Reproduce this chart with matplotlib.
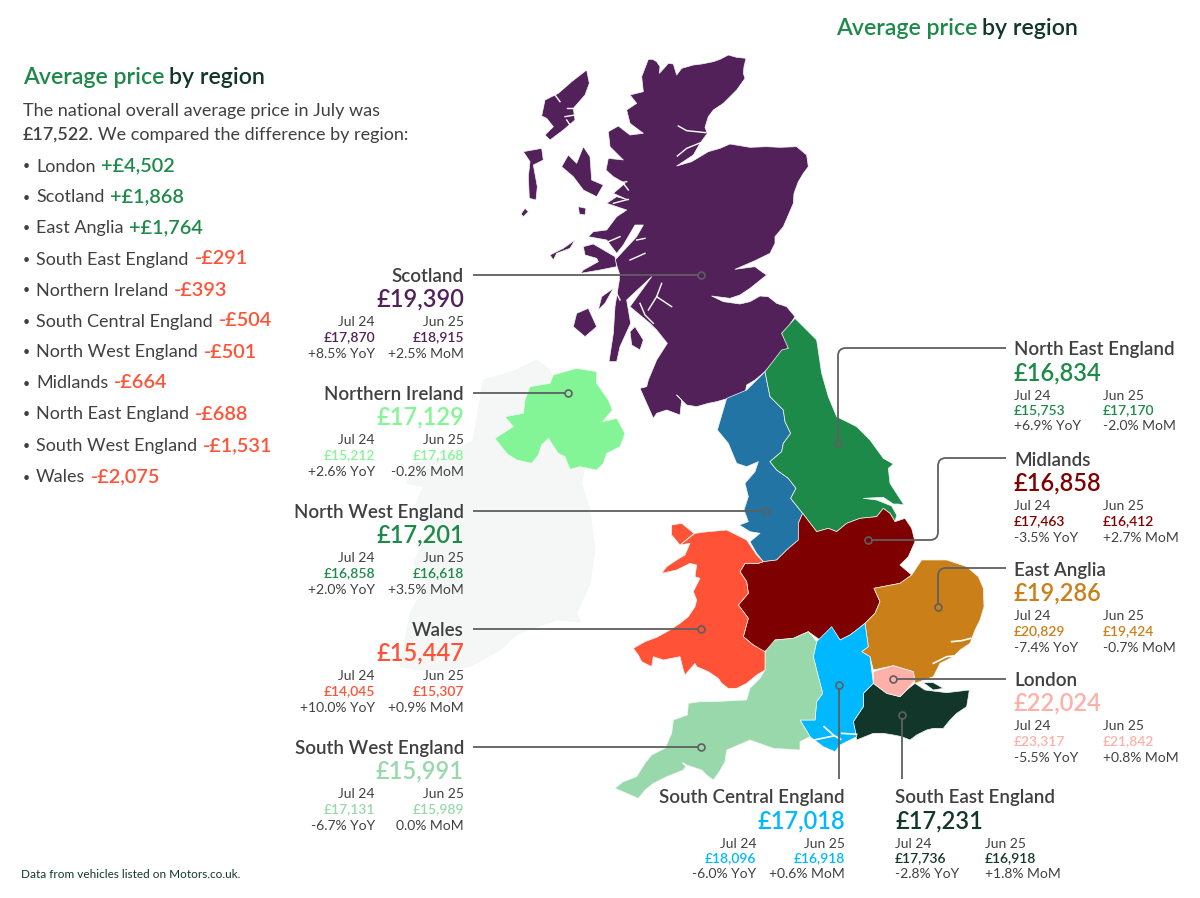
# -*- coding: utf-8 -*-
# average used car price by UK region, map + labels
import numpy as np
import matplotlib
matplotlib.use('agg')
import matplotlib.pyplot as plt
from matplotlib.path import Path
from matplotlib.patches import PathPatch

plt.rcParams['font.family'] = ['Lato', 'DejaVu Sans']

# region data
regions = ['Scotland', 'Northern Ireland', 'North West England', 'Wales', 'South West England',
           'North East England', 'Midlands', 'East Anglia', 'London',
           'South Central England', 'South East England']
prices = ['£19,390', '£17,129', '£17,201', '£15,447', '£15,991',
          '£16,834', '£16,858', '£19,286', '£22,024', '£17,018', '£17,231']
jul_24 = ['£17,870', '£15,212', '£16,858', '£14,045', '£17,131',
          '£15,753', '£17,463', '£20,829', '£23,317', '£18,096', '£17,736']
jun_25 = ['£18,915', '£17,168', '£16,618', '£15,307', '£15,989',
          '£17,170', '£16,412', '£19,424', '£21,842', '£16,918', '£16,918']
yoy = ['+8.5%', '+2.6%', '+2.0%', '+10.0%', '-6.7%', '+6.9%', '-3.5%', '-7.4%', '-5.5%', '-6.0%', '-2.8%']
mom = ['+2.5%', '-0.2%', '+3.5%', '+0.9%', '0.0%', '-2.0%', '+2.7%', '-0.7%', '+0.8%', '+0.6%', '+1.8%']

diff_names = ['London', 'Scotland', 'East Anglia', 'South East England', 'Northern Ireland',
              'South Central England', 'North West England', 'Midlands', 'North East England',
              'South West England', 'Wales']
diff_values = ['+£4,502', '+£1,868', '+£1,764', '-£291', '-£393', '-£504', '-£501', '-£664', '-£688',
               '-£1,531', '-£2,075']

# colours
GREEN = '#1e8a4a'
DARK = '#12372a'
RED = '#ff5236'
PURPLE = '#52215a'
MINT = '#84f596'
BLUE_MAP = '#2274a5'
MAROON = '#7f0000'
AMBER = '#cb7f18'
PINK = '#ffb0a8'
SAGE = '#99d8ab'
CYAN = '#00b8ff'
TEXT = '#404040'
LINE = '#5f5f5f'
price_colors = [PURPLE, MINT, GREEN, RED, SAGE, GREEN, MAROON, AMBER, PINK, CYAN, DARK]

# map outlines at 3x, (x0, y0) is the crop origin
ORIGIN_N = (460, 40)
ORIGIN_S = (600, 400)
ORIGIN_I = (400, 350)

scotland_main = [(565,58),(578,58),(590,65),(600,80),(598,100),(612,85),(625,70),(640,72),(650,105),(665,85),
    (700,75),(725,72),(760,65),(780,58),(805,45),(830,52),(858,55),(852,80),(850,100),(855,115),
    (830,150),(790,190),(760,210),(745,230),(735,262),(742,280),(720,310),(700,345),(650,378),(695,365),
    (720,350),(745,335),(780,325),(810,312),(870,322),(920,320),(960,322),(1010,320),(1040,345),(1045,380),
    (1030,400),(1015,425),(1002,460),(1000,490),(985,525),(970,560),(945,590),(945,610),(930,640),(885,662),
    (825,688),(885,680),(905,695),(920,705),(895,725),(870,745),(840,765),(810,775),(755,768),(790,785),
    (840,792),(870,785),(900,768),(925,770),(950,790),(980,800),(1005,830),(985,860),(965,880),(980,905),
    (985,925),(950,955),(915,995),(885,1020),(860,1035),(855,1060),(815,1072),(770,1085),(745,1090),(710,1100),
    (680,1095),(650,1065),(665,1080),(660,1125),(620,1110),(590,1120),(580,1135),(560,1090),(540,1045),(560,1040),
    (565,1020),(590,960),(622,910),(590,870),(570,850),(510,800),(575,710),(500,780),(512,850),(480,920),
    (470,965),(447,965),(460,880),(465,800),(478,720),(478,700),(465,660),(530,590),(550,555),(525,555),
    (490,615),(470,640),(440,600),(385,590),(400,575),(440,570),(470,530),(500,510),(440,490),(470,470),
    (505,480),(460,460),(495,430),(460,410),(438,390),(445,355),(490,360),(450,320),(445,275),(475,258),
    (510,285),(550,280),(510,250),(500,210),(530,190),(510,165),(550,155),(545,110)]
scot_lewis = [(380,90),(388,130),(375,165),(340,205),(345,240),(310,270),(270,300),(255,285),(280,260),(260,235),
    (245,228),(255,180),(295,160),(335,125)]
scot_uist = [(190,335),(245,325),(250,360),(220,375),(232,440),(228,480),(208,475),(205,410),(210,365)]
scot_barra = [(195,505),(205,515),(190,530),(183,522)]
scot_skye = [(305,380),(325,345),(350,370),(370,320),(390,350),(395,420),(430,435),(410,470),(370,450),(340,410)]
scot_rum = [(355,500),(378,505),(375,525),(358,522)]
scot_mull = [(370,620),(400,612),(465,650),(470,680),(420,690),(362,700),(370,690),(415,665),(410,655),(375,645)]
scot_coll = [(345,600),(330,625),(290,640),(280,660),(270,645),(310,625)]
scot_jura = [(460,745),(435,790),(415,810),(425,770)]
scot_islay = [(385,805),(410,860),(375,890),(340,860),(350,820)]
scot_arran = [(525,860),(550,900),(540,930),(515,915),(510,875)]
scot_loch_lines = [[(652,348),(680,325),(722,308)], [(655,258),(680,272),(738,278)],
    [(605,730),(590,770),(635,800)], [(590,770),(565,810)], [(540,790),(555,825),(580,850)],
    [(440,420),(470,430),(500,425)], [(490,430),(505,450)], [(460,490),(505,478)], [(450,510),(490,515)],
    [(445,605),(480,590)], [(530,600),(555,595)], [(510,660),(555,640)], [(460,740),(480,780)],
    [(285,165),(300,185)], [(320,205),(355,205)], [(315,230),(345,225)], [(320,240),(330,255)]]

north_ireland = [(390,110),(450,100),(460,75),(530,55),(590,65),(590,100),(625,150),(637,180),(608,215),(650,205),
    (675,250),(660,290),(620,310),(610,340),(590,360),(540,350),(510,358),(495,320),(475,310),(445,265),
    (425,285),(415,315),(395,340),(350,330),(320,310),(285,265),(340,230),(315,200),(370,190),(375,150)]
ireland = [(410,30),(450,60),(470,120),(560,330),(545,400),(570,480),(585,600),(570,700),(530,790),(540,815),
    (470,810),(355,850),(300,900),(210,950),(130,960),(60,960),(0,950),(10,900),(30,790),
    (80,700),(40,640),(90,540),(40,480),(70,410),(20,400),(40,340),(130,320),(220,270),(240,150),
    (250,90),(350,60)]

nw_england = [(495,-85),(510,-10),(550,30),(555,65),(572,100),(550,130),(545,155),(510,185),(530,210),(565,235),
    (588,265),(572,295),(608,340),(595,370),(595,420),(560,450),(530,480),(490,485),(470,460),(450,425),
    (480,400),(450,395),(418,375),(445,365),(432,330),(445,290),(435,250),(465,215),(475,185),(440,200),
    (410,190),(385,130),(352,90),(380,-5),(440,-30)]
ne_england = [(585,-245),(650,-180),(665,-80),(685,-10),(710,50),(770,80),(810,120),(850,175),(880,192),(865,205),
    (870,250),(912,315),(895,312),(880,312),(850,292),(790,295),(830,300),(875,318),(890,345),(885,365),
    (870,340),(850,325),(830,350),(780,355),(740,370),(710,395),(685,385),(650,395),(608,340),(572,295),
    (588,265),(565,235),(530,210),(510,185),(545,155),(550,130),(572,100),(555,65),(550,30),(510,-10),
    (495,-85),(545,-150),(565,-155),(545,-200)]
midlands = [(608,340),(650,395),(685,385),(710,395),(740,370),(780,355),(830,350),(850,325),(870,340),(885,365),
    (915,355),(935,385),(945,425),(925,470),(900,495),(935,525),(900,550),(822,565),(840,605),(825,640),
    (795,670),(770,690),(750,705),(720,720),(700,690),(660,720),(625,695),(580,715),(525,720),(520,745),
    (490,755),(460,735),(430,710),(445,655),(415,615),(445,580),(440,545),(420,515),(435,490),(475,490),
    (490,485),(530,480),(560,450),(595,420),(595,370)]
east_anglia = [(965,480),(1040,480),(1100,500),(1135,530),(1150,565),(1152,620),(1140,660),(1125,690),(1110,730),(1080,750),
    (1060,770),(1020,790),(1000,830),(945,850),(940,815),(880,797),(820,810),(810,770),(785,755),(805,740),
    (795,670),(825,640),(840,605),(822,565),(900,550),(935,525)]
london = [(820,815),(880,797),(940,815),(945,840),(920,870),(900,890),(860,880),(820,850)]
south_east = [(790,880),(820,850),(860,880),(900,890),(920,870),(945,850),(975,870),(1040,878),(1108,870),(1105,890),
    (1100,920),(1070,940),(1050,960),(1030,985),(1000,985),(980,990),(950,1005),(930,1020),(905,1010),(880,1005),
    (850,1000),(820,1000),(795,1010),(770,1020),(760,965),(790,920)]
sheppey = [(970,848),(1000,848),(1030,865),(1000,870)]
south_central = [(695,680),(720,720),(750,705),(770,690),(795,670),(805,740),(785,755),(810,770),(820,850),(790,880),
    (790,920),(760,965),(770,1010),(720,1035),(705,1055),(670,1040),(630,1010),(600,960),(645,960),(650,905),
    (668,880),(655,830),(640,770),(650,725)]
south_west = [(525,720),(580,715),(625,695),(650,725),(640,770),(655,830),(668,880),(650,905),(645,960),(600,960),
    (630,1010),(600,1025),(600,1050),(520,1045),(450,1020),(380,1050),(375,1085),(358,1115),(340,1140),(320,1125),
    (305,1110),(260,1095),(250,1110),(200,1130),(160,1150),(135,1170),(115,1195),(45,1165),(70,1145),(110,1130),
    (135,1090),(155,1065),(195,1045),(215,1000),(220,960),(262,945),(265,910),(300,905),(340,905),(440,900),
    (450,865),(480,835),(495,810),(495,755)]
wales_main = [(285,400),(325,395),(380,390),(440,420),(470,465),(490,485),(475,490),(435,490),(420,515),(440,545),
    (445,580),(415,615),(445,655),(430,710),(460,735),(495,755),(495,810),(470,825),(440,850),(410,865),
    (385,865),(365,850),(355,835),(325,815),(290,800),(285,790),(255,825),(250,810),(240,770),(190,780),
    (160,770),(155,800),(125,785),(115,765),(100,745),(135,725),(170,712),(210,690),(240,670),(265,650),
    (285,620),(290,600),(280,575),(300,535),(285,530),(290,495),(270,490),(230,510),(185,520),(200,500),
    (230,480),(255,465),(270,430),(240,435)]
anglesey = [(215,375),(245,370),(282,400),(240,435),(215,405)]
south_lines = [[(672,980),(700,1005),(722,1018)], [(632,1022),(700,1008)], [(725,1000),(770,1003)],
    [(1055,725),(1085,722),(1112,715)], [(1000,790),(1040,770),(1060,768)], [(250,1090),(275,1110)]]


def to_px(points, origin):
    pts = np.array(points, dtype=float)
    return pts[:, 0] / 3 + origin[0], pts[:, 1] / 3 + origin[1]


def draw_shape(points, origin, color, zorder=2):
    x, y = to_px(points, origin)
    ax.fill(x, y, facecolor=color, edgecolor='#f2f7f2', linewidth=0.5, joinstyle='round', zorder=zorder)


def draw_runs(x, y, runs, gap):
    # several colours on one baseline, each piece starts where the last ended
    renderer = fig.canvas.get_renderer()
    for s, color, w, size in runs:
        t = ax.text(x, y + BASE, s, color=color, fontsize=size, fontweight=w, va='baseline', ha='left', zorder=6)
        x = x + t.get_window_extent(renderer).width + gap


def leader(route, end):
    # route with rounded corners
    r = 8
    verts = [route[0]]
    codes = [Path.MOVETO]
    for i in range(1, len(route) - 1):
        p0, p1, p2 = [np.array(route[j], dtype=float) for j in (i - 1, i, i + 1)]
        a = p1 - r * (p1 - p0) / np.linalg.norm(p1 - p0)
        b = p1 + r * (p2 - p1) / np.linalg.norm(p2 - p1)
        verts += [tuple(a), tuple(p1), tuple(b)]
        codes += [Path.LINETO, Path.CURVE3, Path.CURVE3]
    verts.append(route[-1])
    codes.append(Path.LINETO)
    ax.add_patch(PathPatch(Path(verts, codes), facecolor='none', edgecolor=LINE, lw=1.3, zorder=4))
    ax.plot(*end, 'o', ms=5, mfc='none', mec=LINE, mew=1.2, zorder=5)


DY = 1.5
BASE = 6.5

fig = plt.figure(figsize=(12, 8.98), dpi=100)
ax = fig.add_axes([0, 0, 1, 1])
ax.set_xlim(0, 1200)
ax.set_ylim(898, 0)
ax.axis('off')

## map
draw_shape(ireland, ORIGIN_I, '#f5f7f6', zorder=1)
draw_shape(north_ireland, ORIGIN_I, MINT)
for shape in [scotland_main, scot_lewis, scot_uist, scot_barra, scot_skye, scot_rum, scot_mull, scot_coll,
              scot_jura, scot_islay, scot_arran]:
    draw_shape(shape, ORIGIN_N, PURPLE)
for shape, color in [(nw_england, BLUE_MAP), (ne_england, GREEN), (midlands, MAROON), (east_anglia, AMBER),
                     (south_east, DARK), (sheppey, DARK), (south_central, CYAN), (south_west, SAGE),
                     (wales_main, RED), (anglesey, RED), (london, PINK)]:
    draw_shape(shape, ORIGIN_S, color)
for line in scot_loch_lines:
    ax.plot(*to_px(line, ORIGIN_N), color='white', lw=1.0, zorder=3)
for line in south_lines:
    ax.plot(*to_px(line, ORIGIN_S), color='white', lw=1.2, zorder=3)

## leader lines
routes = [[(473,275),(698,275)], [(473,393),(565,393)], [(473,511),(763,511)], [(473,629),(698,629)],
          [(473,747),(698,747)], [(1006,348),(838,348),(838,440)], [(1006,458),(938,458),(938,540),(871,540)],
          [(1006,568),(938,568),(938,604)], [(1006,679),(896,679)], [(839,779),(839,688)], [(902,779),(902,718)]]
ends = [(701,275), (568,393), (766,511), (701,629), (701,747), (838,443), (868,540), (938,607),
        (893,679), (839,685), (902,715)]
for route, end in zip(routes, ends):
    leader(route, end)

## region labels
# x of name/price, x of Jul col, x of Jun col, y of name, alignment
label_pos = [(464,375,464,275,'right'), (464,375,464,393,'right'), (464,375,464,511,'right'),
             (464,375,464,629,'right'), (464,375,464,747,'right'),
             (1014,1014,1103,348,'left'), (1014,1014,1103,459,'left'), (1014,1014,1103,569,'left'),
             (1014,1014,1103,679,'left'), (845,756,845,796,'right'), (895,895,985,796,'left')]
for i, (x, xj, xn, y, ha) in enumerate(label_pos):
    kw = dict(ha=ha, va='center', zorder=6)
    y = y + DY
    ax.text(x, y, regions[i], color=TEXT, fontsize=13.5, fontweight='semibold', **kw)
    ax.text(x, y + 23, prices[i], color=price_colors[i], fontsize=17, fontweight='semibold', **kw)
    ax.text(xj, y + 46, 'Jul 24', color=TEXT, fontsize=10, **kw)
    ax.text(xn, y + 46, 'Jun 25', color=TEXT, fontsize=10, **kw)
    ax.text(xj, y + 61, jul_24[i], color=price_colors[i], fontsize=10, fontweight='semibold', **kw)
    ax.text(xn, y + 61, jun_25[i], color=price_colors[i], fontsize=10, fontweight='semibold', **kw)
    ax.text(xj, y + 77, yoy[i] + ' YoY', color=TEXT, fontsize=10, **kw)
    ax.text(xn, y + 77, mom[i] + ' MoM', color=TEXT, fontsize=10, **kw)

## titles
title_runs = [('Average price', GREEN, 'semibold', 16.7), ('by region', DARK, 'semibold', 16.7)]
draw_runs(836, 28.5, title_runs, 5)
draw_runs(23, 77, title_runs, 5)

## left panel
draw_runs(23, 109.5, [('The national overall average price in July was', TEXT, 'normal', 13)], 4)
draw_runs(23, 133.5, [('£17,522.', TEXT, 'semibold', 13), ('We compared the difference by region:', TEXT, 'normal', 13)], 4)

diff_y = [165, 196, 227, 258, 289, 320, 351, 382, 413, 445, 476]
for name, value, y in zip(diff_names, diff_values, diff_y):
    ax.text(23, y + DY, '•', color=TEXT, fontsize=9, va='center')
    c = GREEN if value.startswith('+') else RED
    draw_runs(36, y, [(name, TEXT, 'normal', 13), (value, c, 'semibold', 14.3)], 6)

ax.text(21, 873 + DY, 'Data from vehicles listed on Motors.co.uk.', color=DARK, fontsize=8.5, va='center')

fig.savefig('out.png', dpi=100)
